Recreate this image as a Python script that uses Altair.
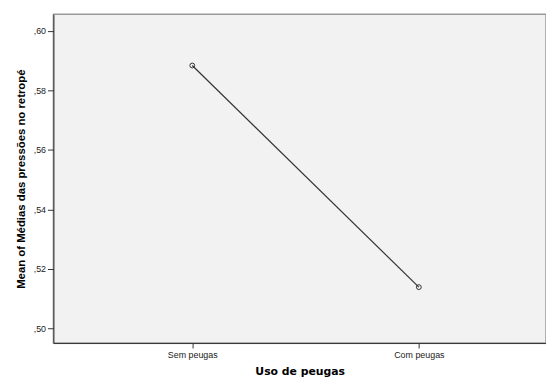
import altair as alt
import pandas as pd

categories = ["Sem peugas", "Com peugas"]
means = [0.5884, 0.5139]
y_ticks = [0.50, 0.52, 0.54, 0.56, 0.58, 0.60]

df = pd.DataFrame({"uso": categories, "media": means})

x = alt.X(
    "uso:N",
    sort=categories,
    scale=alt.Scale(type="point", padding=0.587, align=0.522),
    axis=alt.Axis(
        title="Uso de peugas",
        titleFont="DejaVu Sans",
        titleFontSize=11,
        titleFontWeight="bold",
        titleColor="#000000",
        titlePadding=6,
        labelFont="Liberation Sans",
        labelFontSize=9,
        labelColor="#222222",
        labelAngle=0,
        labelPadding=3,
        tickColor="#333333",
        tickSize=5,
        domainColor="#333333",
        domainWidth=1,
        grid=False,
    ),
)
y = alt.Y(
    "media:Q",
    scale=alt.Scale(domain=[0.4951, 0.6056], nice=False, zero=False),
    axis=alt.Axis(
        title="Mean of Médias das pressões no retropé",
        titleFont="Liberation Sans",
        titleFontSize=11.5,
        titleFontWeight="bold",
        titleColor="#000000",
        titlePadding=7,
        values=y_ticks,
        labelExpr="',' + substring(format(datum.value, '.2f'), 2)",
        labelFont="Liberation Sans",
        labelFontSize=9,
        labelColor="#222222",
        labelPadding=2,
        tickColor="#333333",
        tickSize=6,
        domainColor="#333333",
        domainWidth=1,
        grid=False,
    ),
)

line = alt.Chart(df).mark_line(color="#333333", strokeWidth=1.2).encode(x=x, y=y)
pts = alt.Chart(df).mark_point(
    shape="circle", size=24, filled=False, color="#333333", strokeWidth=1, opacity=1
).encode(x=x, y=y)

chart = (
    alt.layer(line, pts)
    .properties(
        width=499,
        height=333,
        background="#ffffff",
        padding={"left": 7, "top": 4, "right": 0, "bottom": 0},
    )
    .configure_view(fill="#f2f2f2", stroke="#9a9a9a", strokeWidth=1.5)
)

chart.save("out.html", embed_options={"renderer": "svg", "actions": False})
